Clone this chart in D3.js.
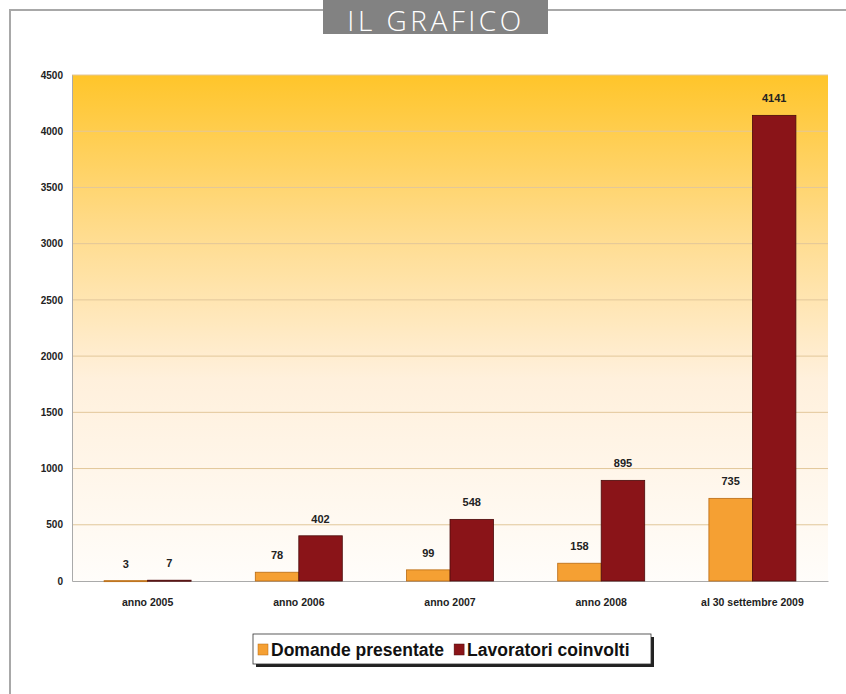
<!DOCTYPE html>
<html>
<head>
<meta charset="utf-8">
<script src="https://cdn.jsdelivr.net/npm/d3@7"></script>
<style>
  body { margin: 0; background: #fff; }
  svg { display: block; }
</style>
</head>
<body>
<div id="chart"></div>
<script>
const categories = ["anno 2005", "anno 2006", "anno 2007", "anno 2008", "al 30 settembre 2009"];
const domande = [3, 78, 99, 158, 735];
const lavoratori = [7, 402, 548, 895, 4141];
const seriesNames = ["Domande presentate", "Lavoratori coinvolti"];
const yTicks = [0, 500, 1000, 1500, 2000, 2500, 3000, 3500, 4000, 4500];

const W = 846, H = 694;
const colors = ["#F5A033", "#8A1418"];
const strokes = ["#B86A12", "#4A0A0A"];

const svg = d3.select("#chart").append("svg")
  .attr("width", W)
  .attr("height", H);

// outer frame
svg.append("path")
  .attr("d", d3.line()([[848, 10], [10, 10], [10, 700]]))
  .attr("fill", "none")
  .attr("stroke", "#a8a8a8")
  .attr("stroke-width", 2);

svg.append("rect")
  .attr("x", 323).attr("y", -2)
  .attr("width", 225).attr("height", 36)
  .attr("fill", "#828282");
svg.append("text")
  .text("IL GRAFICO")
  .attr("x", 436).attr("y", 31)
  .attr("text-anchor", "middle")
  .attr("fill", "#fff")
  .attr("font-family", "Open Sans")
  .attr("font-weight", 300)
  .attr("font-size", 28)
  .attr("letter-spacing", 3.5);

const m = { left: 72, right: 828, top: 75, bottom: 581 };

const defs = svg.append("defs");
const grad = defs.append("linearGradient")
  .attr("id", "bg").attr("x1", 0).attr("y1", 0).attr("x2", 0).attr("y2", 1);
grad.append("stop").attr("offset", "0%").attr("stop-color", "#FFC52A");
grad.append("stop").attr("offset", "30%").attr("stop-color", "#FFDB8A");
grad.append("stop").attr("offset", "60%").attr("stop-color", "#FFF0DC");
grad.append("stop").attr("offset", "100%").attr("stop-color", "#FFFDFA");

const x = d3.scaleBand().domain(categories).range([m.left, m.right]);
const xs = d3.scaleBand().domain([0, 1]).range([0, 87]);
const y = d3.scaleLinear().domain([0, 4500]).range([m.bottom, m.top]);

svg.append("rect")
  .attr("x", m.left).attr("y", m.top)
  .attr("width", m.right - m.left).attr("height", m.bottom - m.top)
  .attr("fill", "url(#bg)");

// grid
svg.append("g")
  .selectAll("line")
  .data(yTicks.filter(d => d > 0))
  .join("line")
  .attr("x1", m.left).attr("x2", m.right)
  .attr("y1", d => y(d)).attr("y2", d => y(d))
  .attr("stroke", "#E2C79A")
  .attr("stroke-width", 1);

const narrow = "Liberation Sans Narrow, Arial Narrow, Liberation Sans";

// y axis
const yAxis = svg.append("g")
  .attr("transform", `translate(${m.left},0)`)
  .call(d3.axisLeft(y).tickValues(yTicks).tickFormat(d3.format("d")).tickSize(0).tickPadding(9));
yAxis.select(".domain").attr("stroke", "#aaa");
yAxis.selectAll("text")
  .attr("font-family", narrow)
  .attr("font-weight", "bold")
  .attr("font-size", 10)
  .attr("fill", "#222");

// x axis
const xAxis = svg.append("g")
  .attr("transform", `translate(0,${m.bottom})`)
  .call(d3.axisBottom(x).tickSize(0).tickPadding(18));
xAxis.select(".domain").attr("stroke", "#aaa");
xAxis.selectAll("text")
  .attr("font-family", narrow)
  .attr("font-weight", "bold")
  .attr("font-size", 10.5)
  .attr("fill", "#222");

// bars
const series = [domande, lavoratori];
series.forEach((vals, s) => {
  const g = svg.append("g");
  g.selectAll("rect")
    .data(vals)
    .join("rect")
    .attr("x", (d, i) => x(categories[i]) + x.bandwidth() / 2 - 43.5 + xs(s))
    .attr("y", d => y(d))
    .attr("width", xs.bandwidth())
    .attr("height", d => Math.max(1, y(0) - y(d)))
    .attr("fill", colors[s])
    .attr("stroke", strokes[s])
    .attr("stroke-width", 0.8);
  g.selectAll("text")
    .data(vals)
    .join("text")
    .text(d => d)
    .attr("x", (d, i) => x(categories[i]) + x.bandwidth() / 2 - 43.5 + xs(s) + xs.bandwidth() / 2)
    .attr("y", d => y(d) - 13)
    .attr("text-anchor", "middle")
    .attr("font-family", narrow)
    .attr("font-weight", "bold")
    .attr("font-size", 11)
    .attr("fill", "#222");
});

// legend
const lg = svg.append("g").attr("transform", "translate(253,634)");
lg.append("rect").attr("x", 3).attr("y", 3).attr("width", 398).attr("height", 30).attr("fill", "#222");
lg.append("rect").attr("x", 0).attr("y", 0).attr("width", 398).attr("height", 30)
  .attr("fill", "#fff").attr("stroke", "#333").attr("stroke-width", 0.8);
let lx = 5;
seriesNames.forEach((name, i) => {
  lg.append("rect").attr("x", lx).attr("y", 10).attr("width", 10).attr("height", 11)
    .attr("fill", colors[i]).attr("stroke", strokes[i]).attr("stroke-width", 0.5);
  const t = lg.append("text").text(name)
    .attr("x", lx + 13).attr("y", 22)
    .attr("font-family", "Liberation Sans")
    .attr("font-weight", "bold")
    .attr("font-size", 17.5)
    .attr("fill", "#111");
  lx += 13 + t.node().getComputedTextLength() + 10;
});
</script>
</body>
</html>
